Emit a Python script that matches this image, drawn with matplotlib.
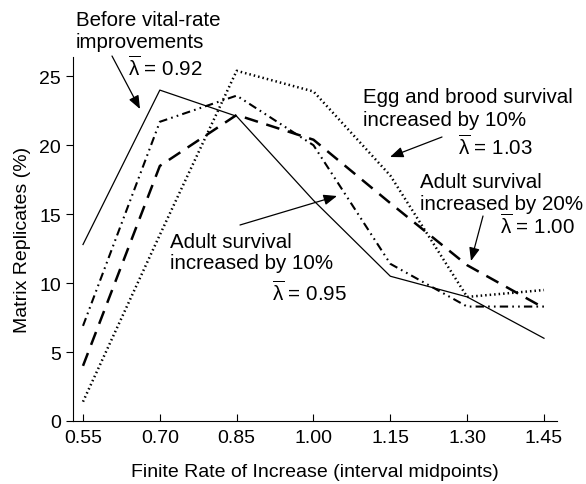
import matplotlib
matplotlib.use("Agg")
import matplotlib.pyplot as plt

plt.rcParams['font.family'] = ['Liberation Sans', 'DejaVu Sans']
plt.rcParams['mathtext.fontset'] = 'custom'
plt.rcParams['mathtext.rm'] = 'Liberation Sans'
plt.rcParams['mathtext.it'] = 'Liberation Sans'

x_mid = [0.55, 0.70, 0.85, 1.00, 1.15, 1.30, 1.45]
x_labels = ["0.55", "0.70", "0.85", "1.00", "1.15", "1.30", "1.45"]
before = [12.8, 24.0, 22.1, 16.0, 10.5, 9.0, 6.0]
egg_brood_10 = [1.4, 13.5, 25.4, 23.9, 17.8, 9.0, 9.5]
adult_20 = [4.0, 18.5, 22.2, 20.4, 15.8, 11.3, 8.2]
adult_10 = [6.9, 21.7, 23.6, 20.0, 11.4, 8.3, 8.3]
y_ticks = [0, 5, 10, 15, 20, 25]

fig = plt.figure(figsize=(5.86, 4.85), dpi=100)
ax = fig.add_axes([0.1246, 0.1299, 0.8259, 0.7505])

ax.plot(x_mid, before, color='black', lw=0.9, ls='-')
ax.plot(x_mid, egg_brood_10, color='black', lw=1.8, ls=(0, (0.6, 1.2)))
ax.plot(x_mid, adult_20, color='black', lw=1.8, ls=(0, (5.5, 3.5)))
ax.plot(x_mid, adult_10, color='black', lw=1.5, ls=(0, (4, 2, 0.8, 2, 0.8, 2)))

ax.set_xlim(0.5305, 1.4754)
ax.set_ylim(0, 26.4)
ax.set_xticks(x_mid)
ax.set_xticklabels(x_labels)
ax.set_yticks(y_ticks)
ax.tick_params(axis='x', direction='in', length=5, labelsize=14, pad=6)
ax.tick_params(axis='y', direction='out', length=5, labelsize=14)
for s in ['top', 'right']:
    ax.spines[s].set_visible(False)
ax.set_xlabel("Finite Rate of Increase (interval midpoints)", fontsize=14, labelpad=12)
ax.set_ylabel("Matrix Replicates (%)", fontsize=14, labelpad=6)

fs = 14.8
def ftxt(px, py, s, ha='left'):
    fig.text(px / 586, 1 - py / 485, s, fontsize=fs, ha=ha, va='center')

ftxt(76, 20, "Before vital-rate")
ftxt(76, 42, "improvements")
ftxt(128, 68, r"$\overline{\lambda}$ = 0.92")

ftxt(363, 98, "Egg and brood survival")
ftxt(363, 120, "increased by 10%")
ftxt(458, 147, r"$\overline{\lambda}$ = 1.03")

ftxt(420, 183, "Adult survival")
ftxt(420, 204, "increased by 20%")
ftxt(500, 226, r"$\overline{\lambda}$ = 1.00")

ftxt(170, 243, "Adult survival")
ftxt(170, 264, "increased by 10%")
ftxt(272, 293, r"$\overline{\lambda}$ = 0.95")

def farrow(x0, y0, x1, y1):
    fig.add_artist(matplotlib.patches.FancyArrowPatch(
        (x0 / 586, 1 - y0 / 485), (x1 / 586, 1 - y1 / 485),
        transform=fig.transFigure, arrowstyle='-|>,head_length=8,head_width=3.2',
        color='black', lw=0.9, shrinkA=0, shrinkB=0))

farrow(112, 57, 140, 110)
farrow(442, 138, 390, 158)
farrow(483, 217, 471, 262)
farrow(240, 226, 337, 197)

fig.savefig("out.png", dpi=100)
